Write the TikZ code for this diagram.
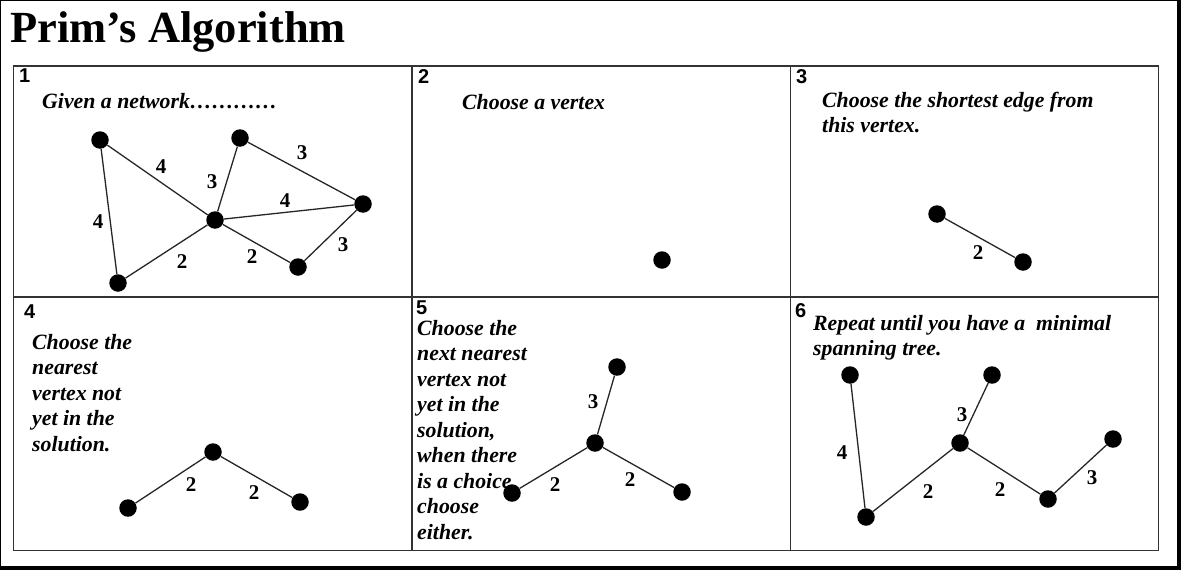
\documentclass[tikz,border=0pt]{standalone}
\usepackage{fontspec}
\setmainfont{Liberation Serif}
\newfontfamily\numfont{Liberation Sans}
\begin{document}
\begin{tikzpicture}[x=1pt,y=-1pt,
  vtx/.style={circle,fill=black,draw=none,minimum size=17.5pt,inner sep=0pt},
  edge/.style={draw=black!85,line width=1.3pt},
  wt/.style={inner sep=0pt,font=\fontsize{21}{24}\selectfont\bfseries},
  cellnum/.style={inner sep=0pt,anchor=north west,font=\numfont\fontsize{20}{22}\selectfont\bfseries},
  desc/.style={inner sep=0pt,anchor=base west,font=\fontsize{21.8}{25.5}\selectfont\bfseries\itshape},
  grid/.style={draw=black!80,line width=1.5pt}]
\useasboundingbox (0,0) rectangle (1181,570);
% outer frame
\draw[line width=1.2pt] (0.6,568) -- (0.6,0.6) -- (1179,0.6);
\draw[line width=3.6pt] (1179.2,0) -- (1179.2,570);
\draw[line width=3.6pt] (0,568.2) -- (1181,568.2);
% title
\node[inner sep=0pt,anchor=base west,font=\fontsize{44.5}{48}\selectfont\bfseries] (title) at (10,42) {Prim’s Algorithm};
% table
\draw[grid] (13.5,66) rectangle (1158.5,550.5);
\draw[grid] (13.5,297) -- (1158.5,297);
\draw[grid] (412,66) -- (412,550.5);
\draw[grid] (790.5,66) -- (790.5,550.5);
% cell numbers
\node[cellnum] (n1) at (19,69) {1};
\node[cellnum] (n2) at (418,69) {2};
\node[cellnum] (n3) at (796,69) {3};
\node[cellnum] (n4) at (24,305) {4};
\node[cellnum] (n5) at (416,301) {5};
\node[cellnum] (n6) at (795,303) {6};
% panel 1
\node[desc] (t1) at (42,108) {Given a network…………};
\node[vtx] (a1) at (100,140) {};
\node[vtx] (b1) at (240,138) {};
\node[vtx] (c1) at (215,220) {};
\node[vtx] (d1) at (363,204) {};
\node[vtx] (e1) at (298,267) {};
\node[vtx] (f1) at (118,283) {};
\draw[edge] (a1) -- (c1);
\draw[edge] (a1) -- (f1);
\draw[edge] (b1) -- (c1);
\draw[edge] (b1) -- (d1);
\draw[edge] (c1) -- (d1);
\draw[edge] (c1) -- (f1);
\draw[edge] (c1) -- (e1);
\draw[edge] (e1) -- (d1);
\node[wt] (w1a) at (161,167) {4};
\node[wt] (w1b) at (98,222) {4};
\node[wt] (w1c) at (212,182) {3};
\node[wt] (w1d) at (302,153) {3};
\node[wt] (w1e) at (285,201) {4};
\node[wt] (w1f) at (182,262) {2};
\node[wt] (w1g) at (252,257) {2};
\node[wt] (w1h) at (343,245) {3};
% panel 2
\node[desc] (t2) at (462,109) {Choose a vertex};
\node[vtx] (a2) at (662,260) {};
% panel 3
\node[desc] (t3) at (822,107) {\begin{tabular}[t]{@{}l@{}}Choose the shortest edge from\\this vertex.\end{tabular}};
\node[vtx] (a3) at (937,214) {};
\node[vtx] (b3) at (1023,262) {};
\draw[edge] (a3) -- (b3);
\node[wt] (w3) at (978,253) {2};
% panel 4
\node[desc] (t4) at (32,349) {\begin{tabular}[t]{@{}l@{}}Choose the\\nearest\\vertex not\\yet in the\\solution.\end{tabular}};
\node[vtx] (a4) at (128,508) {};
\node[vtx] (b4) at (213,452) {};
\node[vtx] (c4) at (300,502) {};
\draw[edge] (a4) -- (b4);
\draw[edge] (b4) -- (c4);
\node[wt] (w4a) at (191,485) {2};
\node[wt] (w4b) at (254,493) {2};
% panel 5
\node[desc] (t5) at (417,335) {\begin{tabular}[t]{@{}l@{}}Choose the\\next nearest\\vertex not\\yet in the\\solution,\\when there\\is a choice\\choose\\either.\end{tabular}};
\node[vtx] (a5) at (617,367) {};
\node[vtx] (b5) at (595,443) {};
\node[vtx] (c5) at (512,493) {};
\node[vtx] (d5) at (682,492) {};
\draw[edge] (a5) -- (b5);
\draw[edge] (b5) -- (c5);
\draw[edge] (b5) -- (d5);
\node[wt] (w5a) at (593,402) {3};
\node[wt] (w5b) at (555,485) {2};
\node[wt] (w5c) at (630,480) {2};
% panel 6
\node[desc] (t6) at (813,330) {\begin{tabular}[t]{@{}l@{}}Repeat until you have a\ \ minimal\\spanning tree.\end{tabular}};
\node[vtx] (a6) at (850,375) {};
\node[vtx] (b6) at (992,375) {};
\node[vtx] (c6) at (960,443) {};
\node[vtx] (d6) at (1113,439) {};
\node[vtx] (e6) at (866,517) {};
\node[vtx] (f6) at (1048,499) {};
\draw[edge] (a6) -- (e6);
\draw[edge] (e6) -- (c6);
\draw[edge] (c6) -- (b6);
\draw[edge] (c6) -- (f6);
\draw[edge] (f6) -- (d6);
\node[wt] (w6a) at (842,453) {4};
\node[wt] (w6b) at (928,492) {2};
\node[wt] (w6c) at (962,415) {3};
\node[wt] (w6d) at (1000,490) {2};
\node[wt] (w6e) at (1092,478) {3};
\end{tikzpicture}
\end{document}
